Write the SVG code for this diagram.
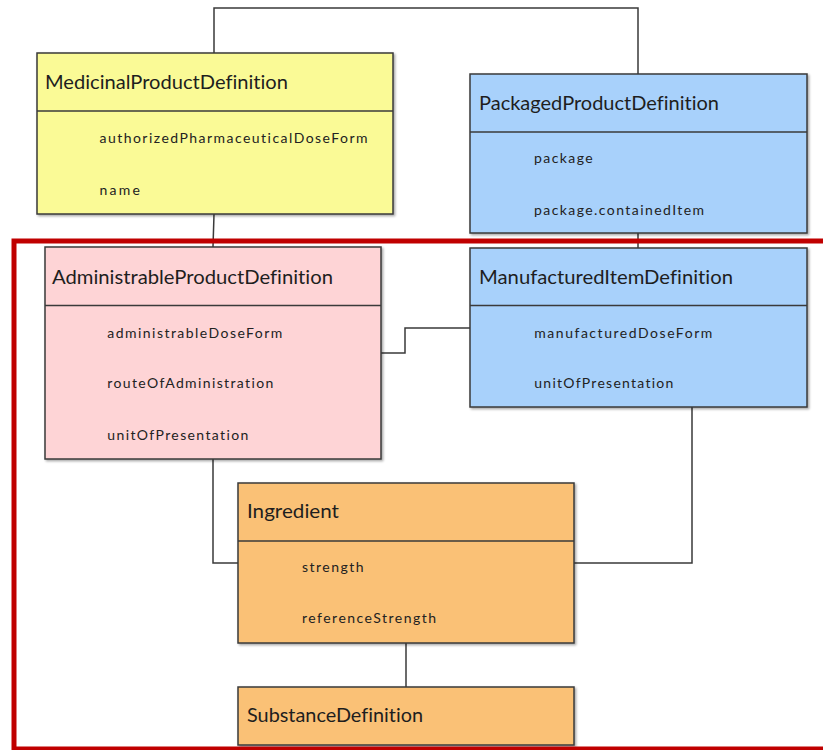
<svg xmlns="http://www.w3.org/2000/svg" width="823" height="750" viewBox="0 0 823 750">
<defs>
<filter id="sh" x="-5%" y="-5%" width="110%" height="115%">
<feDropShadow dx="1.5" dy="1.5" stdDeviation="1" flood-color="#000" flood-opacity="0.35"/>
</filter>
<style>
.box{stroke:#3a3a3a;stroke-width:1.5;filter:url(#sh)}
.div{stroke:#3a3a3a;stroke-width:1.5}
.yel{fill:#FAFA96}
.blu{fill:#A8D1FB}
.pnk{fill:#FED4D6}
.org{fill:#FAC176}
.t{font-family:Lato,"Open Sans","Liberation Sans",sans-serif;font-size:20px;fill:#1e1e1e;font-variant-ligatures:none}
.a{font-family:Lato,"Open Sans","Liberation Sans",sans-serif;font-size:14px;fill:#222;font-variant-ligatures:none}
.c{fill:none;stroke:#3a3a3a;stroke-width:1.5}
.frame{fill:none;stroke:#C00000;stroke-width:5}
</style>
</defs>
<rect width="823" height="750" fill="#fff"/>
<g id="connectors">
<path class="c" d="M214,53 V8 H638 V74"/>
<path class="c" d="M214,214 L213,247"/>
<path class="c" d="M638,233 V248"/>
<path class="c" d="M381,353 H405 V328 H470"/>
<path class="c" d="M213,459 V563 H238"/>
<path class="c" d="M692,407 V563 H574"/>
<path class="c" d="M406,643 V687"/>
</g>
<g id="MedicinalProductDefinition">
<rect class="box yel" x="37" y="53" width="356" height="161"/>
<line class="div" x1="37" y1="111" x2="393" y2="111"/>
<text class="t" x="45" y="89" textLength="243" lengthAdjust="spacingAndGlyphs">MedicinalProductDefinition</text>
<text class="a" x="99.5" y="142.5" textLength="268" lengthAdjust="spacing">authorizedPharmaceuticalDoseForm</text>
<text class="a" x="99.5" y="195" textLength="40.5" lengthAdjust="spacing">name</text>
</g>
<g id="PackagedProductDefinition">
<rect class="box blu" x="470" y="74" width="337" height="159"/>
<line class="div" x1="470" y1="132" x2="807" y2="132"/>
<text class="t" x="479" y="110" textLength="240" lengthAdjust="spacingAndGlyphs">PackagedProductDefinition</text>
<text class="a" x="534" y="163" textLength="58.7" lengthAdjust="spacing">package</text>
<text class="a" x="534" y="215" textLength="170" lengthAdjust="spacing">package.containedItem</text>
</g>
<g id="AdministrableProductDefinition">
<rect class="box pnk" x="45" y="247" width="336" height="212"/>
<line class="div" x1="45" y1="305.5" x2="381" y2="305.5"/>
<text class="t" x="52" y="284.3" textLength="281" lengthAdjust="spacingAndGlyphs">AdministrableProductDefinition</text>
<text class="a" x="107.3" y="337.7" textLength="175" lengthAdjust="spacing">administrableDoseForm</text>
<text class="a" x="107.3" y="388.3" textLength="166" lengthAdjust="spacing">routeOfAdministration</text>
<text class="a" x="107.3" y="440" textLength="141" lengthAdjust="spacing">unitOfPresentation</text>
</g>
<g id="ManufacturedItemDefinition">
<rect class="box blu" x="470" y="248" width="337" height="159"/>
<line class="div" x1="470" y1="305.5" x2="807" y2="305.5"/>
<text class="t" x="479" y="284.3" textLength="254" lengthAdjust="spacingAndGlyphs">ManufacturedItemDefinition</text>
<text class="a" x="534.3" y="337.7" textLength="178" lengthAdjust="spacing">manufacturedDoseForm</text>
<text class="a" x="534.3" y="388.3" textLength="139" lengthAdjust="spacing">unitOfPresentation</text>
</g>
<g id="Ingredient">
<rect class="box org" x="238" y="483" width="336" height="160"/>
<line class="div" x1="238" y1="541" x2="574" y2="541"/>
<text class="t" x="247" y="518.3" textLength="92" lengthAdjust="spacingAndGlyphs">Ingredient</text>
<text class="a" x="302" y="571.7" textLength="61.5" lengthAdjust="spacing">strength</text>
<text class="a" x="302" y="623.3" textLength="134" lengthAdjust="spacing">referenceStrength</text>
</g>
<g id="SubstanceDefinition">
<rect class="box org" x="238" y="687" width="336" height="58"/>
<text class="t" x="247" y="722.3" textLength="176" lengthAdjust="spacingAndGlyphs">SubstanceDefinition</text>
</g>
<path class="frame" d="M826,241 H14 V749 H826"/>
</svg>
